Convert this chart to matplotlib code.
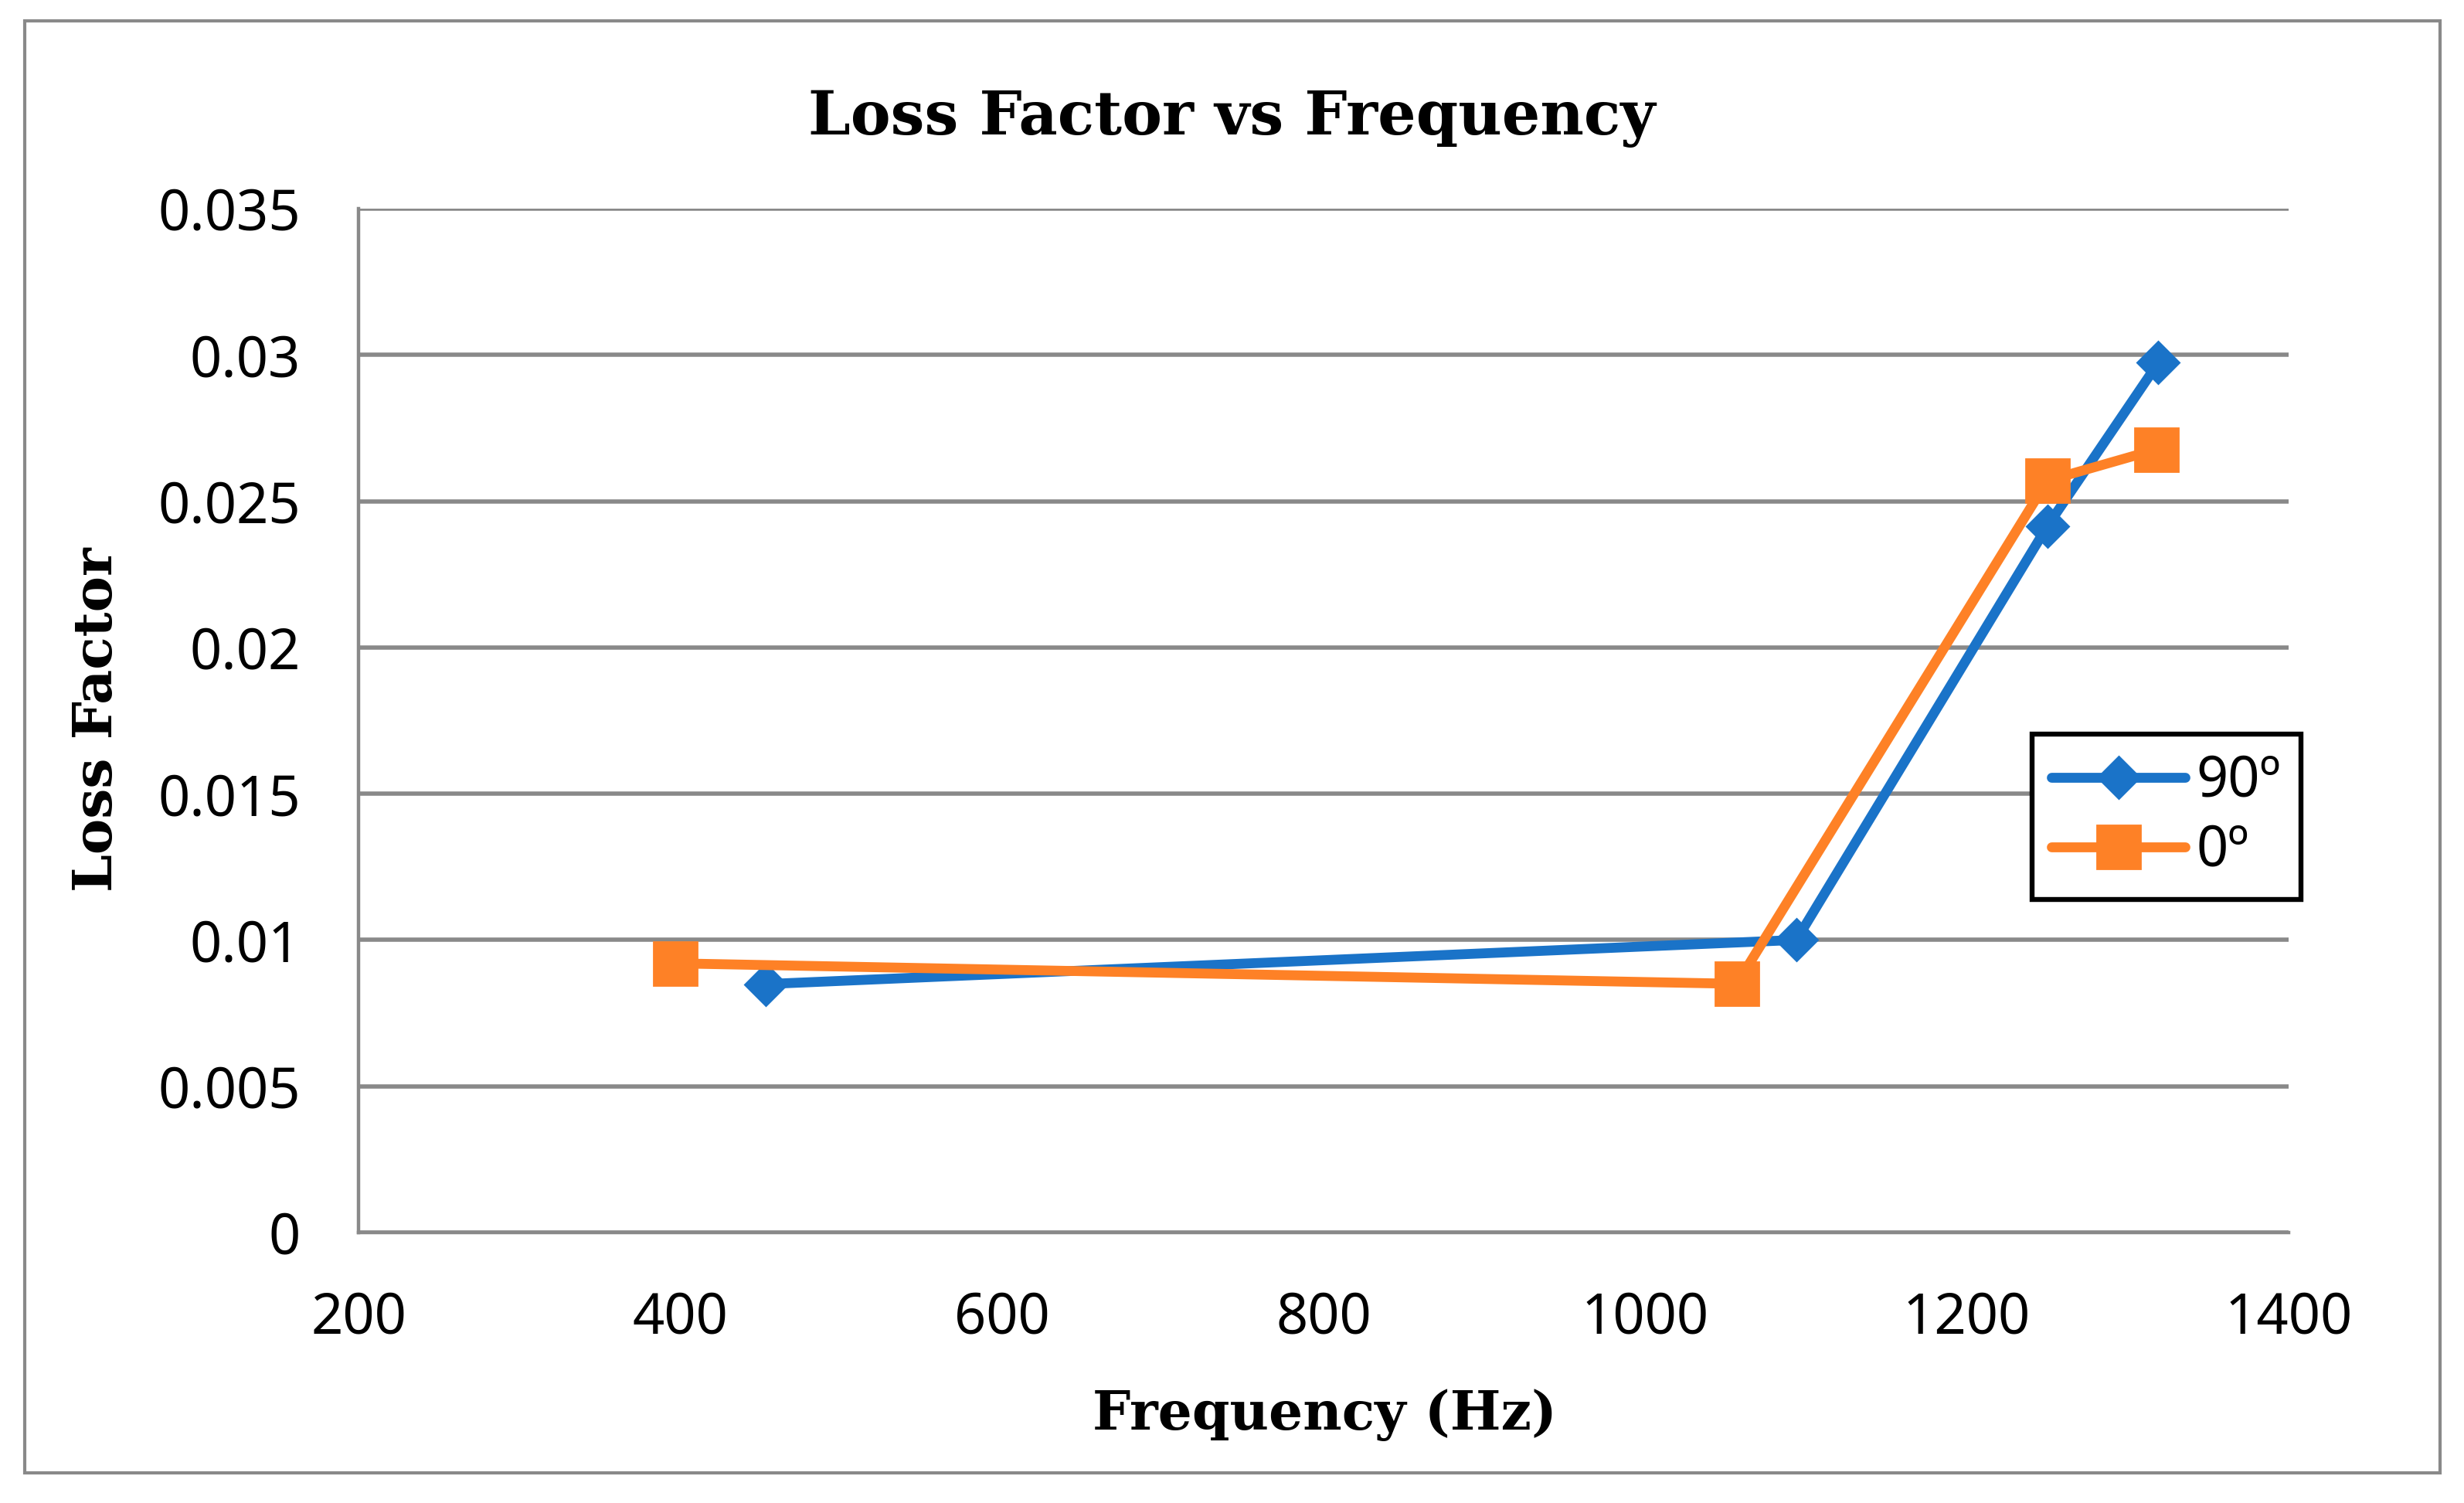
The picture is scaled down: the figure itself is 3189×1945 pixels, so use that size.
import matplotlib
matplotlib.use('Agg')
import matplotlib.pyplot as plt
from matplotlib.patches import Rectangle

# data
freq_90 = [453, 1094, 1250, 1319]
loss_90 = [0.00849, 0.0100, 0.02414, 0.02973]
freq_0 = [397, 1057, 1250, 1318]
loss_0 = [0.0092, 0.0085, 0.0257, 0.02677]
series_labels = ['90º', '0º']
x_ticks = [200, 400, 600, 800, 1000, 1200, 1400]
y_ticks = [0, 0.005, 0.01, 0.015, 0.02, 0.025, 0.03, 0.035]
y_tick_labels = ['0', '0.005', '0.01', '0.015', '0.02', '0.025', '0.03', '0.035']

BLUE = '#1a73c8'
ORANGE = '#fe8126'
GRID = '#898989'
TICK_FONT = 'Noto Sans'
SERIF = 'DejaVu Serif'

fig = plt.figure(figsize=(15.945, 9.725), dpi=200)
ax = fig.add_axes([0.1455, 0.180, 0.7833, 0.6812])

ax.plot(freq_90, loss_90, color=BLUE, lw=4.6, marker='D', ms=14,
        label=series_labels[0], solid_joinstyle='round', solid_capstyle='round')
ax.plot(freq_0, loss_0, color=ORANGE, lw=4.6, marker='s', ms=20,
        label=series_labels[1], solid_joinstyle='round', solid_capstyle='round')

ax.set_xlim(200, 1400)
ax.set_ylim(0, 0.035)
ax.set_xticks(x_ticks)
ax.set_yticks(y_ticks)
ax.set_yticklabels(y_tick_labels)
ax.tick_params(axis='both', length=0, labelsize=26, colors='black')
ax.tick_params(axis='x', pad=27)
ax.tick_params(axis='y', pad=27)
for lab in ax.get_xticklabels() + ax.get_yticklabels():
    lab.set_fontfamily(TICK_FONT)

ax.grid(axis='y', color=GRID, lw=2.0)
ax.set_axisbelow(True)
for side in ['top', 'right']:
    ax.spines[side].set_visible(False)
for side in ['left', 'bottom']:
    ax.spines[side].set_color(GRID)
    ax.spines[side].set_linewidth(1.6)

fig.text(0.5, 0.9215, 'Loss Factor vs Frequency', ha='center', va='center',
         fontsize=28, fontweight='bold', family=SERIF)
fig.text(0.5375, 0.0586, 'Frequency (Hz)', ha='center', va='center',
         fontsize=25, fontweight='bold', family=SERIF)
fig.text(0.0395, 0.521, 'Loss Factor', ha='center', va='center', rotation=90,
         fontsize=25, fontweight='bold', family=SERIF)

leg = ax.legend(loc='upper left', bbox_to_anchor=(0.867, 0.487), borderaxespad=0,
                fancybox=False, frameon=True, handlelength=2.4,
                handletextpad=0.2, borderpad=0.35, labelspacing=0.22,
                prop={'family': TICK_FONT, 'size': 26})
leg.get_frame().set_edgecolor('black')
leg.get_frame().set_linewidth(2.3)
leg.get_frame().set_alpha(1)

# outer chart border
fig.patches.append(Rectangle((0.0101, 0.0201), 0.9801, 0.9658, transform=fig.transFigure,
                             fill=False, edgecolor=GRID, lw=1.5))

fig.savefig('out.png', dpi=200)
